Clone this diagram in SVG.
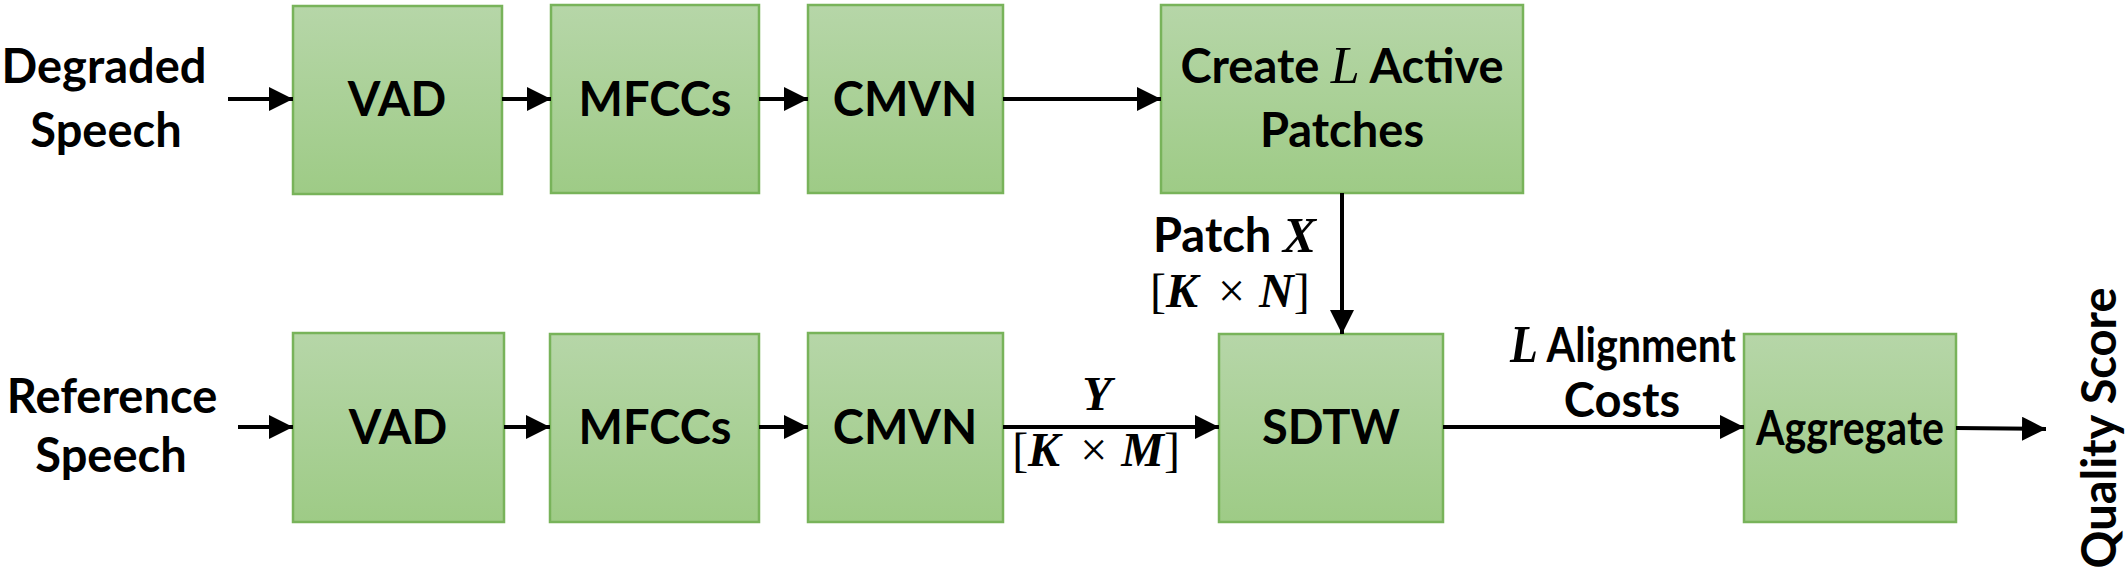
<svg xmlns="http://www.w3.org/2000/svg" width="2128" height="575" viewBox="0 0 2128 575">
<defs>
<linearGradient id="gf" x1="0" y1="0" x2="0" y2="1">
<stop offset="0" stop-color="#b6d6a8"/>
<stop offset="1" stop-color="#9ecb86"/>
</linearGradient>
<marker id="ah" markerUnits="userSpaceOnUse" markerWidth="26" markerHeight="24" refX="24" refY="12" orient="auto">
<path d="M0,0 L24,12 L0,24 Z" fill="#000"/>
</marker>
<style>
.box{fill:url(#gf);stroke:#78b35a;stroke-width:2.5}
.lbl{font-family:Lato,"Open Sans",sans-serif;font-weight:bold;font-size:47px;fill:#000;text-anchor:middle}
.st{text-anchor:start}
.math{font-family:"Liberation Serif","DejaVu Serif",serif;font-weight:bold;font-style:italic}
.mthin{font-family:"Liberation Serif","DejaVu Serif",serif;font-weight:normal;font-style:italic}
.up{font-family:"Liberation Serif","DejaVu Serif",serif;font-weight:normal;font-style:normal}
.conn line{stroke:#000;stroke-width:4;marker-end:url(#ah)}
</style>
</defs>
<rect width="2128" height="575" fill="#fff"/>
<g id="degraded-speech"><text class="lbl" x="104" y="83">Degraded</text><text class="lbl" x="106" y="147">Speech</text></g>
<g id="reference-speech"><text class="lbl" x="112" y="413">Reference</text><text class="lbl" x="111" y="472">Speech</text></g>
<g id="vad-top"><rect class="box" x="293" y="6" width="209" height="188"/><text class="lbl" x="397" y="116">VAD</text></g>
<g id="mfcc-top"><rect class="box" x="551" y="5" width="208" height="188"/><text class="lbl" x="655" y="116">MFCCs</text></g>
<g id="cmvn-top"><rect class="box" x="808" y="5" width="195" height="188"/><text class="lbl" x="905" y="116">CMVN</text></g>
<g id="create-patches"><rect class="box" x="1161" y="5" width="362" height="188"/><text class="lbl" x="1342" y="83">Create <tspan class="mthin" font-size="52">L</tspan> Active</text><text class="lbl" x="1342" y="147">Patches</text></g>
<g id="vad-bot"><rect class="box" x="293" y="333" width="211" height="189"/><text class="lbl" x="398" y="444">VAD</text></g>
<g id="mfcc-bot"><rect class="box" x="550" y="334" width="209" height="188"/><text class="lbl" x="655" y="444">MFCCs</text></g>
<g id="cmvn-bot"><rect class="box" x="808" y="333" width="195" height="189"/><text class="lbl" x="905" y="444">CMVN</text></g>
<g id="sdtw"><rect class="box" x="1219" y="334" width="224" height="188"/><text class="lbl" x="1331" y="444">SDTW</text></g>
<g id="aggregate"><rect class="box" x="1744" y="334" width="212" height="188"/><text class="lbl" x="1850" y="445" font-size="49" textLength="188" lengthAdjust="spacingAndGlyphs">Aggregate</text></g>
<g id="quality-score"><text class="lbl" transform="translate(2116,428) rotate(-90)" x="0" y="0">Quality Score</text></g>
<g id="connectors" class="conn">
<line x1="228" y1="99" x2="293" y2="99"/>
<line x1="502" y1="99" x2="551" y2="99"/>
<line x1="759" y1="99" x2="808" y2="99"/>
<line x1="1003" y1="99" x2="1161" y2="99"/>
<line x1="1342" y1="193" x2="1342" y2="334"/>
<line x1="238" y1="427" x2="293" y2="427"/>
<line x1="504" y1="427" x2="550" y2="427"/>
<line x1="759" y1="427" x2="808" y2="427"/>
<line x1="1003" y1="427" x2="1219" y2="427"/>
<line x1="1443" y1="427" x2="1744" y2="427"/>
<line x1="1956" y1="428" x2="2046" y2="429"/>
</g>
<g id="labels">
<text class="lbl st" x="1153" y="252">Patch <tspan class="math" font-size="50">X</tspan></text>
<text x="1150" y="307" font-size="48" class="up">[<tspan class="math">K</tspan><tspan dx="20">×</tspan><tspan dx="14" class="math">N</tspan>]</text>
<text x="1097" y="410" font-size="48" class="math" text-anchor="middle">Y</text>
<text x="1096" y="466" font-size="48" class="up" text-anchor="middle">[<tspan class="math">K</tspan><tspan dx="20">×</tspan><tspan dx="14" class="math">M</tspan>]</text>
<text class="lbl st" x="1510" y="362" textLength="226" lengthAdjust="spacingAndGlyphs"><tspan class="math" font-size="52">L</tspan> Alignment</text>
<text class="lbl" x="1622" y="417">Costs</text>
</g>
</svg>
